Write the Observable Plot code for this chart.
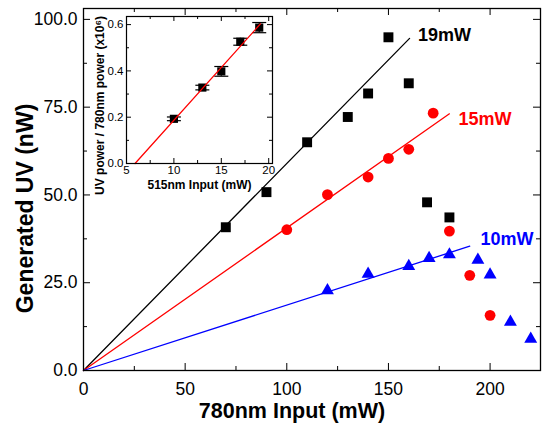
<!DOCTYPE html>
<html><head><meta charset="utf-8">
<script src="https://cdn.jsdelivr.net/npm/d3@7"></script>
<script src="https://cdn.jsdelivr.net/npm/@observablehq/plot@0.6"></script>
<style>
body{margin:0;background:#fff;}
#wrap{position:relative;width:548px;height:426px;}
#inset{position:absolute;left:86px;top:12px;}
</style></head><body><div id="wrap"><div id="main"></div><div id="inset"></div></div>
<script>
// ---- main chart data ----
const x19 = [70, 90, 110, 130, 140, 150, 160, 169, 180];
const y19 = [40.8, 50.8, 65.0, 72.2, 78.9, 94.9, 81.8, 47.9, 43.6];
const x15 = [100, 120, 140, 150, 160, 172, 180, 190, 200];
const y15 = [40.1, 50.1, 55.1, 60.4, 63.0, 73.3, 39.7, 27.1, 15.7];
const x10 = [120, 140, 160, 170, 180, 194, 200, 210, 220];
const y10 = [22.8, 27.5, 29.7, 32.0, 33.0, 31.5, 27.3, 13.8, 9.0];
const fitSeries = ["19mW", "15mW", "10mW"];
const fitXStart = [0, 0, 0];
const fitYStart = [0, 0, 0];
const fitXEnd = [160.4, 180, 190];
const fitYEnd = [94.6, 73.1, 35.4];
const labelX = [164.5, 184.5, 195.3];
const labelY = [95.4, 71.5, 37.3];
const xMajor = [0, 50, 100, 150, 200];
const xMinor = [25, 75, 125, 175];
const yMajor = [0, 25, 50, 75, 100];
const yMinor = [12.5, 37.5, 62.5, 87.5];
const xDomain = [0, 224.8];
const yDomain = [0, 103.1];
const xTitle = "780nm Input (mW)";
const yTitle = "Generated UV (nW)";

// ---- inset data ----
const insX = [10, 13, 15, 17, 19];
const insY = [0.193, 0.328, 0.398, 0.526, 0.587];
const insErr = [0.008, 0.010, 0.021, 0.015, 0.022];
const insFitX = [5.9, 19.13];
const insFitY = [0, 0.603];
const insXMajor = [5, 10, 15, 20];
const insXMinor = [7.5, 12.5, 17.5];
const insYMajor = [0, 0.2, 0.4, 0.6];
const insYMinor = [0.1, 0.3, 0.5];
const insXDomain = [5, 20.4];
const insYDomain = [0, 0.635];
const insXTitle = "515nm Input (mW)";
const insYTitle = "UV power / 780nm power (x10\u2076)";

const colors = {"19mW": "#000000", "15mW": "#ff0000", "10mW": "#0000ff"};
const FONT = "'Liberation Sans', Arial, Helvetica, sans-serif";

const pts = (xs, ys) => xs.map((x, i) => ({x, y: ys[i]}));
const fitData = fitSeries.flatMap((s, i) => [
  {s, x: fitXStart[i], y: fitYStart[i]},
  {s, x: fitXEnd[i], y: fitYEnd[i]}
]);
const labels = fitSeries.map((s, i) => ({s, x: labelX[i], y: labelY[i]}));

// main dimensions
const W = 548, H = 426, mL = 83, mR = 8, mT = 8, mB = 56;
const iW = W - mL - mR, iH = H - mT - mB;
const maj = 7, mnr = 4;

const main = Plot.plot({
  width: W, height: H,
  marginLeft: mL, marginRight: mR, marginTop: mT, marginBottom: mB,
  style: {fontFamily: FONT, background: "transparent", color: "black"},
  x: {domain: xDomain},
  y: {domain: yDomain},
  marks: [
    Plot.line(fitData, {x: "x", y: "y", z: "s", stroke: d => colors[d.s], strokeWidth: 1.3}),
    Plot.dot(pts(x19, y19), {x: "x", y: "y", symbol: "square", r: 5.6, fill: colors["19mW"]}),
    Plot.dot(pts(x15, y15), {x: "x", y: "y", symbol: "circle", r: 5.4, fill: colors["15mW"]}),
    Plot.dot(pts(x10, y10), {x: "x", y: "y", symbol: "triangle", r: 4.8, fill: colors["10mW"]}),
    Plot.text(labels, {x: "x", y: "y", text: "s", fill: d => colors[d.s], textAnchor: "start", fontSize: 18, fontWeight: "bold"}),
    // inward ticks on all four sides
    Plot.tickX(xMajor, {x: d => d, insetTop: iH - maj, stroke: "black"}),
    Plot.tickX(xMinor, {x: d => d, insetTop: iH - mnr, stroke: "black"}),
    Plot.tickX(xMajor, {x: d => d, insetBottom: iH - maj, stroke: "black"}),
    Plot.tickX(xMinor, {x: d => d, insetBottom: iH - mnr, stroke: "black"}),
    Plot.tickY(yMajor, {y: d => d, insetRight: iW - maj, stroke: "black"}),
    Plot.tickY(yMinor, {y: d => d, insetRight: iW - mnr, stroke: "black"}),
    Plot.tickY(yMajor, {y: d => d, insetLeft: iW - maj, stroke: "black"}),
    Plot.tickY(yMinor, {y: d => d, insetLeft: iW - mnr, stroke: "black"}),
    Plot.frame({stroke: "black", strokeWidth: 1.3}),
    Plot.axisX({ticks: xMajor, tickSize: 0, tickPadding: 12, fontSize: 17.5, label: null}),
    Plot.axisY({ticks: yMajor, tickSize: 0, tickPadding: 6, fontSize: 17.5, tickFormat: d3.format(".1f"), label: null}),
    Plot.text([xTitle], {frameAnchor: "bottom", text: d => d, textAnchor: "middle", lineAnchor: "middle", dx: -20, dy: 41, fontSize: 21.5, fontWeight: "bold"}),
    Plot.text([yTitle], {frameAnchor: "left", text: d => d, textAnchor: "middle", lineAnchor: "middle", dx: -58, dy: 19, rotate: -90, fontSize: 23, fontWeight: "bold"})
  ]
});
document.getElementById("main").appendChild(main);

// inset dimensions
const jL = 40, jR = 8, jT = 4, jB = 34, jiW = 146, jiH = 147;
const jmaj = 5, jmnr = 3;
const capSymbol = {draw(ctx, size) { const w = Math.sqrt(size / Math.PI); ctx.moveTo(-w, 0); ctx.lineTo(w, 0); }};
const insData = insX.map((x, i) => ({x, y: insY[i], e: insErr[i]}));
const insFit = insFitX.map((x, i) => ({x, y: insFitY[i]}));

const inset = Plot.plot({
  width: jL + jiW + jR, height: jT + jiH + jB,
  marginLeft: jL, marginRight: jR, marginTop: jT, marginBottom: jB,
  style: {fontFamily: FONT, background: "transparent", color: "black"},
  x: {domain: insXDomain},
  y: {domain: insYDomain},
  marks: [
    Plot.frame({fill: "white"}),
    Plot.ruleX(insData, {x: "x", y1: d => d.y - d.e, y2: d => d.y + d.e, stroke: "black", strokeWidth: 1.2}),
    Plot.dot(insData, {x: "x", y: d => d.y - d.e, symbol: capSymbol, r: 7, stroke: "black", strokeWidth: 1.2}),
    Plot.dot(insData, {x: "x", y: d => d.y + d.e, symbol: capSymbol, r: 7, stroke: "black", strokeWidth: 1.2}),
    Plot.dot(insData, {x: "x", y: "y", symbol: "square", r: 4.6, fill: "black"}),
    Plot.line(insFit, {x: "x", y: "y", stroke: "#ff0000", strokeWidth: 1.3}),
    Plot.tickX(insXMajor, {x: d => d, insetTop: jiH - jmaj, stroke: "black"}),
    Plot.tickX(insXMinor, {x: d => d, insetTop: jiH - jmnr, stroke: "black"}),
    Plot.tickX(insXMajor, {x: d => d, insetBottom: jiH - jmaj, stroke: "black"}),
    Plot.tickX(insXMinor, {x: d => d, insetBottom: jiH - jmnr, stroke: "black"}),
    Plot.tickY(insYMajor, {y: d => d, insetRight: jiW - jmaj, stroke: "black"}),
    Plot.tickY(insYMinor, {y: d => d, insetRight: jiW - jmnr, stroke: "black"}),
    Plot.tickY(insYMajor, {y: d => d, insetLeft: jiW - jmaj, stroke: "black"}),
    Plot.tickY(insYMinor, {y: d => d, insetLeft: jiW - jmnr, stroke: "black"}),
    Plot.frame({stroke: "black", strokeWidth: 1.2}),
    Plot.axisX({ticks: insXMajor, tickSize: 0, tickPadding: 2, fontSize: 11.5, label: null}),
    Plot.axisY({ticks: insYMajor, tickSize: 0, tickPadding: 3, fontSize: 11.5, tickFormat: d3.format(".1f"), label: null}),
    Plot.text([insXTitle], {frameAnchor: "bottom", text: d => d, textAnchor: "middle", lineAnchor: "middle", dy: 22, fontSize: 12, fontWeight: "bold"}),
    Plot.text([insYTitle], {frameAnchor: "left", text: d => d, textAnchor: "middle", lineAnchor: "middle", dx: -26, dy: 15.5, rotate: -90, fontSize: 12, fontWeight: "bold"})
  ]
});
document.getElementById("inset").appendChild(inset);
</script></body></html>
